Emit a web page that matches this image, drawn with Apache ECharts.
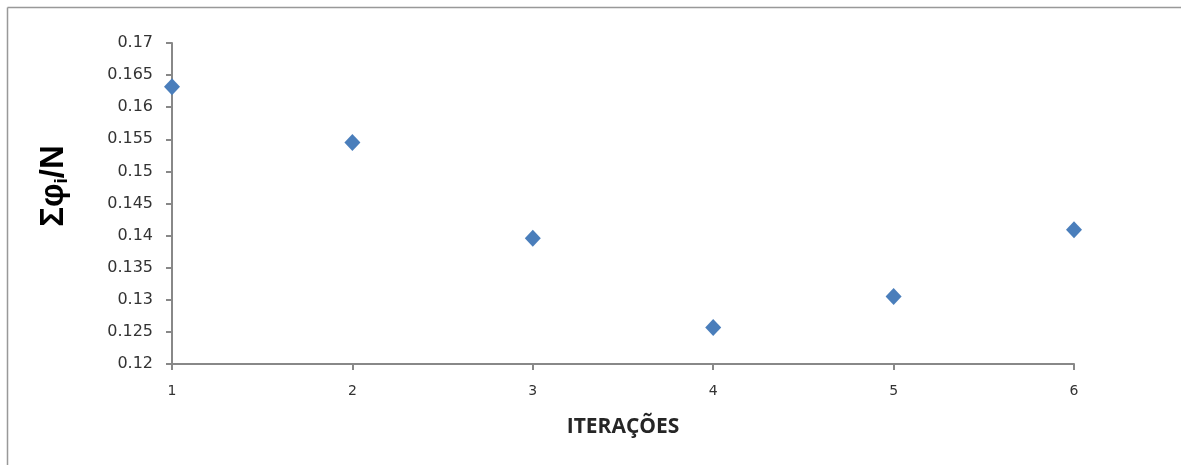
<!DOCTYPE html>
<html>
<head>
<meta charset="utf-8">
<script src="https://cdn.jsdelivr.net/npm/echarts@6/dist/echarts.min.js"></script>
<style>html,body{margin:0;padding:0;background:#fff}#c{width:1181px;height:465px}</style>
</head>
<body>
<div id="c"></div>
<script>
const iterations = [1, 2, 3, 4, 5, 6];
const sumPhiOverN = [0.1632, 0.1545, 0.1396, 0.1257, 0.1305, 0.1409];
const yTicks = [0.12, 0.125, 0.13, 0.135, 0.14, 0.145, 0.15, 0.155, 0.16, 0.165, 0.17];
const xTitle = 'ITERAÇÕES';

const chart = echarts.init(document.getElementById('c'), null, {renderer: 'canvas'});
const labelFont = {color: '#333', fontSize: 16, fontFamily: 'DejaVu Sans'};
chart.setOption({
  animation: false,
  backgroundColor: '#fff',
  grid: {left: 172, right: 107, top: 43, bottom: 101, containLabel: false},
  xAxis: {
    type: 'value', min: 1, max: 6, interval: 1,
    name: xTitle, nameLocation: 'middle', nameGap: 53,
    nameTextStyle: {fontSize: 21, fontWeight: 'bold', color: '#262626', fontFamily: 'Open Sans'},
    axisLine: {show: true, lineStyle: {color: '#888', width: 2}},
    axisTick: {show: true, length: 6, lineStyle: {color: '#888', width: 2}},
    axisLabel: {margin: 20, ...labelFont, fontSize: 14},
    splitLine: {show: false}
  },
  yAxis: {
    type: 'value', min: yTicks[0], max: yTicks[yTicks.length - 1], interval: 0.005,
    axisLine: {show: true, lineStyle: {color: '#888', width: 2}},
    axisTick: {show: true, length: 6, lineStyle: {color: '#888', width: 2}},
    axisLabel: {margin: 19, ...labelFont, formatter: v => String(+v.toFixed(3))},
    splitLine: {show: false}
  },
  series: [{
    type: 'scatter',
    data: iterations.map((x, i) => [x, sumPhiOverN[i]]),
    symbol: 'diamond', symbolSize: [16, 17],
    itemStyle: {color: '#4a7ebb', opacity: 1}
  }],
  graphic: [
    {type: 'line', shape: {x1: 7.5, y1: 7.5, x2: 1181, y2: 7.5}, style: {stroke: '#999', lineWidth: 1.5}, z: -1},
    {type: 'line', shape: {x1: 7.5, y1: 7.5, x2: 7.5, y2: 465}, style: {stroke: '#999', lineWidth: 1.5}, z: -1},
    {type: 'text', x: 54, y: 186, rotation: Math.PI / 2,
     style: {text: '{a|Σφ}{b|i}{a|/N}', rich: {
       a: {fontSize: 33, fontWeight: 'bold', fontFamily: 'Liberation Sans', fill: '#000', color: '#000'},
       b: {fontSize: 19, fontWeight: 'bold', fontFamily: 'Liberation Sans', fill: '#000', color: '#000', verticalAlign: 'bottom', padding: [15, 0, 0, 0]}
     }, align: 'center', verticalAlign: 'middle'}}
  ]
});
</script>
</body>
</html>
